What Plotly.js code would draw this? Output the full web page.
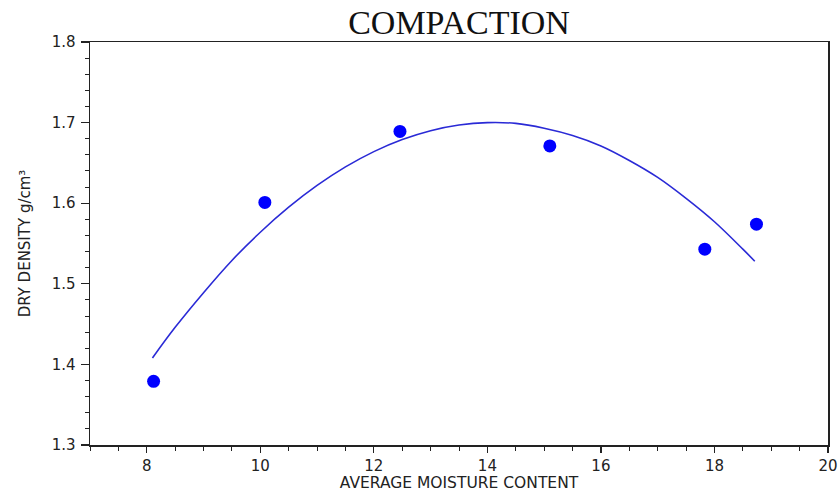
<!DOCTYPE html>
<html>
<head>
<meta charset="utf-8">
<script src="https://cdn.plot.ly/plotly-3.0.1.min.js"></script>
<style>html,body{margin:0;padding:0;background:#fff;}#chart{width:839px;height:492px;}</style>
</head>
<body>
<div id="chart"></div>
<script>
// Measured data points
const moisture = [8.12, 10.08, 12.46, 15.10, 17.83, 18.74];
const dryDensity = [1.379, 1.601, 1.689, 1.671, 1.543, 1.574];

// Fitted curve
const fitX = [8.1, 8.5, 9, 9.5, 10, 10.5, 11, 11.5, 12, 12.5, 13, 13.5, 14, 14.5, 15, 15.5, 16, 16.5, 17, 17.5, 18, 18.5, 18.71];
const fitY = [1.408, 1.446, 1.489, 1.529, 1.564, 1.595, 1.622, 1.645, 1.664, 1.679, 1.690, 1.697, 1.700, 1.699, 1.693, 1.684, 1.671, 1.653, 1.632, 1.606, 1.577, 1.543, 1.528];

const titleText = 'COMPACTION';
const xTitle = 'AVERAGE MOISTURE CONTENT';
const yTitle = 'DRY DENSITY g/cm³';

const traces = [
  {x: fitX, y: fitY, type: 'scatter', mode: 'lines',
   line: {color: '#2a2ad6', width: 1.6, shape: 'spline', smoothing: 1}, hoverinfo: 'skip'},
  {x: moisture, y: dryDensity, type: 'scatter', mode: 'markers',
   marker: {color: '#0000ff', size: 13}}
];

const axisCommon = {
  showline: true, mirror: true, linecolor: '#222', linewidth: 1.5,
  ticks: 'outside', ticklen: 8, tickwidth: 1.2, tickcolor: '#222',
  showgrid: false, zeroline: false,
  tickfont: {family: 'DejaVu Sans', size: 15, color: '#222'}
};

const layout = {
  width: 839, height: 492,
  paper_bgcolor: '#fff', plot_bgcolor: '#fff',
  showlegend: false,
  margin: {l: 90, r: 11, t: 42, b: 47},
  title: {text: titleText, x: 0.5, xref: 'paper', y: 1 - 22/492, yref: 'container', yanchor: 'middle',
          font: {family: 'Liberation Serif', size: 34, color: '#111'}},
  xaxis: Object.assign({}, axisCommon, {
    range: [7, 20], tick0: 0, dtick: 2, ticklen: 6, ticklabelstandoff: 0,
    minor: {dtick: 0.5, tick0: 0, ticks: 'outside', ticklen: 4, tickcolor: '#222', tickwidth: 1},
    title: {text: xTitle, standoff: 7, font: {family: 'DejaVu Sans', size: 15.5, color: '#222'}}
  }),
  yaxis: Object.assign({}, axisCommon, {
    range: [1.3, 1.8], tick0: 1.3, dtick: 0.1, tickformat: '.1f',
    ticklabelstandoff: 2,
    minor: {dtick: 0.02, tick0: 1.3, ticks: 'outside', ticklen: 4, tickcolor: '#222', tickwidth: 1},
    title: {text: yTitle, standoff: 17, font: {family: 'DejaVu Sans', size: 15, color: '#222'}}
  })
};

Plotly.newPlot('chart', traces, layout, {displayModeBar: false, staticPlot: true});
</script>
</body>
</html>
